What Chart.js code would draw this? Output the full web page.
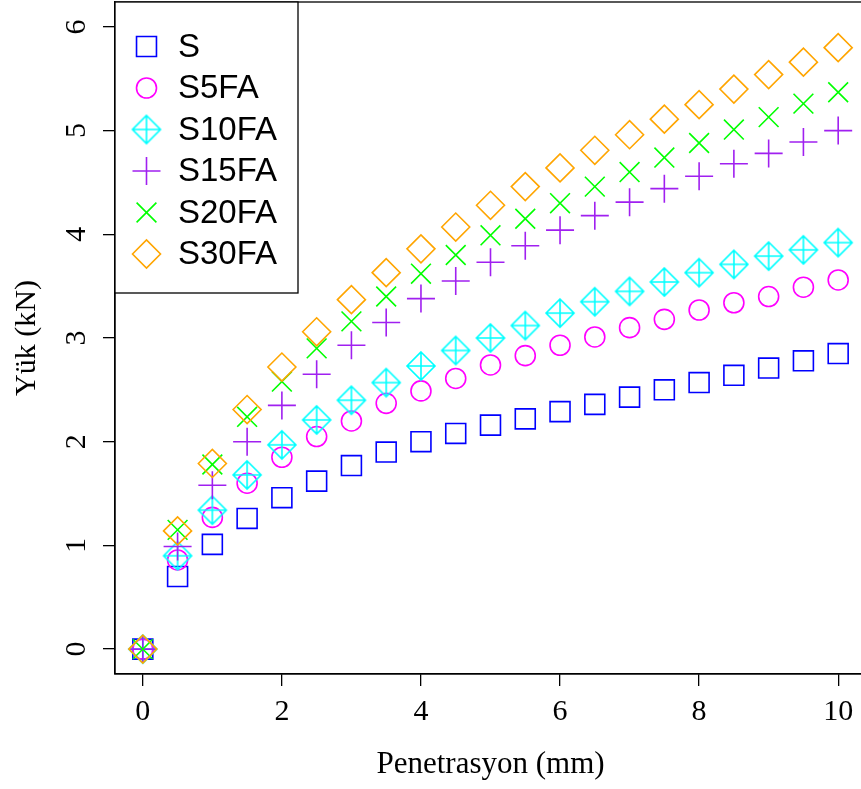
<!DOCTYPE html>
<html>
<head>
<meta charset="utf-8">
<script src="https://cdn.jsdelivr.net/npm/chart.js@4.4.1/dist/chart.umd.min.js"></script>
<style>
  html, body { margin: 0; padding: 0; background: #fff; overflow: hidden; }
  #wrap { width: 870px; height: 789px; }
</style>
</head>
<body>
<div id="wrap"><canvas id="chart" width="870" height="789"></canvas></div>
<script>
// Penetrasyon (mm)
const penetrasyon = [0, 0.5, 1, 1.5, 2, 2.5, 3, 3.5, 4, 4.5, 5, 5.5, 6, 6.5, 7, 7.5, 8, 8.5, 9, 9.5, 10];

// Yük (kN) - her karışım için
const yukS     = [0, 0.70, 1.01, 1.26, 1.46, 1.62, 1.77, 1.90, 2.00, 2.08, 2.16, 2.22, 2.29, 2.36, 2.43, 2.50, 2.57, 2.64, 2.71, 2.78, 2.85];
const yukS5FA  = [0, 0.86, 1.27, 1.60, 1.85, 2.05, 2.20, 2.37, 2.49, 2.61, 2.74, 2.83, 2.93, 3.01, 3.10, 3.18, 3.27, 3.34, 3.40, 3.49, 3.56];
const yukS10FA = [0, 0.90, 1.34, 1.68, 1.97, 2.21, 2.40, 2.57, 2.73, 2.88, 3.00, 3.12, 3.24, 3.35, 3.45, 3.54, 3.63, 3.71, 3.79, 3.85, 3.92];
const yukS15FA = [0, 0.99, 1.58, 2.00, 2.35, 2.65, 2.93, 3.15, 3.38, 3.55, 3.73, 3.89, 4.04, 4.18, 4.31, 4.44, 4.56, 4.68, 4.78, 4.89, 5.00];
const yukS20FA = [0, 1.15, 1.78, 2.24, 2.58, 2.90, 3.16, 3.40, 3.62, 3.80, 3.99, 4.15, 4.30, 4.46, 4.60, 4.74, 4.88, 5.01, 5.13, 5.26, 5.37];
const yukS30FA = [0, 1.14, 1.79, 2.31, 2.72, 3.06, 3.37, 3.63, 3.86, 4.07, 4.28, 4.46, 4.64, 4.81, 4.96, 5.11, 5.25, 5.40, 5.54, 5.66, 5.80];

const seriesNames = ['S', 'S5FA', 'S10FA', 'S15FA', 'S20FA', 'S30FA'];
const xTicks = [0, 2, 4, 6, 8, 10];
const yTicks = [0, 1, 2, 3, 4, 5, 6];

const LW = 1.6;

// simbolo de rombo con cruz (pch 9 de R)
function diamondPlus(r, color) {
    const c = document.createElement('canvas');
    const s = 2 * Math.ceil(r + LW);
    c.width = s; c.height = s;
    const g = c.getContext('2d');
    const m = s / 2;
    g.strokeStyle = color;
    g.lineWidth = LW;
    g.beginPath();
    g.moveTo(m, m - r); g.lineTo(m + r, m); g.lineTo(m, m + r); g.lineTo(m - r, m); g.closePath();
    g.moveTo(m - r, m); g.lineTo(m + r, m);
    g.moveTo(m, m - r); g.lineTo(m, m + r);
    g.stroke();
    return c;
}

function pts(ys) {
    return penetrasyon.map((x, i) => ({ x: x, y: ys[i] }));
}

function makeSet(name, ys, color, style, radius, order) {
    return {
        label: name,
        data: pts(ys),
        order: order, // el ultimo se dibuja encima, como en R
        showLine: false,
        pointStyle: style,
        pointRadius: radius,
        pointHoverRadius: radius,
        pointBorderWidth: LW,
        borderWidth: LW,
        borderColor: color,
        backgroundColor: 'rgba(0,0,0,0)',
        pointBackgroundColor: 'rgba(0,0,0,0)'
    };
}

const datasets = [
    makeSet(seriesNames[0], yukS, '#0000FF', 'rect', 14.1, 6),
    makeSet(seriesNames[1], yukS5FA, '#FF00FF', 'circle', 10, 5),
    makeSet(seriesNames[2], yukS10FA, '#00FFFF', diamondPlus(14, '#00FFFF'), 14, 4),
    makeSet(seriesNames[3], yukS15FA, '#A020F0', 'cross', 14, 3),
    makeSet(seriesNames[4], yukS20FA, '#00FF00', 'crossRot', 14, 2),
    makeSet(seriesNames[5], yukS30FA, '#FFA500', 'rectRot', 14, 1)
];

// marco del grafico (caja de R)
const boxPlugin = {
    id: 'boxPlugin',
    afterDraw(chart) {
        const { ctx, chartArea: a } = chart;
        ctx.save();
        ctx.strokeStyle = '#000';
        ctx.lineWidth = 1.3;
        ctx.strokeRect(a.left, a.top, a.right - a.left, a.bottom - a.top);
        ctx.restore();
    }
};

// leyenda con caja
const legendPlugin = {
    id: 'legendBox',
    afterDraw(chart) {
        const ctx = chart.ctx;
        const a = chart.chartArea;
        ctx.save();
        ctx.fillStyle = '#fff';
        ctx.fillRect(a.left, a.top, 183, 291);
        ctx.strokeStyle = '#000';
        ctx.lineWidth = 1.3;
        ctx.strokeRect(a.left, a.top, 183, 291);
        chart.data.datasets.forEach((ds, i) => {
            const y = 46.5 + i * 41.5;
            const x = 146.5;
            ctx.strokeStyle = ds.borderColor;
            ctx.fillStyle = 'rgba(0,0,0,0)';
            ctx.lineWidth = LW;
            Chart.helpers.drawPoint(ctx, {
                pointStyle: ds.pointStyle, rotation: 0, radius: ds.pointRadius, borderWidth: LW
            }, x, y);
            ctx.fillStyle = '#000';
            ctx.font = '33px "Liberation Sans", Arial, sans-serif';
            ctx.textAlign = 'left';
            ctx.textBaseline = 'middle';
            ctx.fillText(ds.label, 178, y + 1);
        });
        ctx.restore();
    }
};

const serif = '"Liberation Serif", "Times New Roman", serif';

new Chart(document.getElementById('chart').getContext('2d'), {
    type: 'scatter',
    data: { datasets: datasets },
    options: {
        responsive: false,
        animation: false,
        events: [],
        layout: { autoPadding: false, padding: { top: 2, right: 4, left: 0, bottom: 0 } },
        plugins: {
            legend: { display: false },
            tooltip: { enabled: false }
        },
        scales: {
            x: {
                type: 'linear',
                min: -0.4,
                max: 10.4,
                afterBuildTicks(scale) { scale.ticks = xTicks.map(v => ({ value: v })); },
                afterFit(scale) {
                    scale.height = 115;
                    scale.paddingLeft = 0; scale.paddingRight = 0;
                },
                border: { display: true, color: '#000', width: 1.3 },
                grid: { drawOnChartArea: false, drawTicks: true, tickLength: 12, color: '#000', lineWidth: 1.3 },
                ticks: {
                    color: '#000',
                    font: { family: serif, size: 30 },
                    padding: 8,
                    maxRotation: 0,
                    autoSkip: false
                },
                title: {
                    display: true,
                    text: 'Penetrasyon (mm)',
                    color: '#000',
                    font: { family: serif, size: 31 },
                    padding: { top: 0, bottom: 6 }
                }
            },
            y: {
                type: 'linear',
                min: -0.24,
                max: 6.24,
                afterBuildTicks(scale) { scale.ticks = yTicks.map(v => ({ value: v })); },
                afterFit(scale) {
                    scale.width = 115;
                    scale.paddingTop = 0; scale.paddingBottom = 0;
                },
                border: { display: true, color: '#000', width: 1.3 },
                grid: { drawOnChartArea: false, drawTicks: true, tickLength: 12, color: '#000', lineWidth: 1.3 },
                ticks: {
                    color: '#000',
                    font: { family: serif, size: 30 },
                    padding: 18,
                    minRotation: 90,
                    maxRotation: 90,
                    crossAlign: 'center',
                    autoSkip: false
                },
                title: {
                    display: true,
                    text: 'Yük (kN)',
                    color: '#000',
                    font: { family: serif, size: 30 },
                    padding: { top: 9, bottom: 0 }
                }
            }
        }
    },
    plugins: [boxPlugin, legendPlugin]
});
</script>
</body>
</html>
